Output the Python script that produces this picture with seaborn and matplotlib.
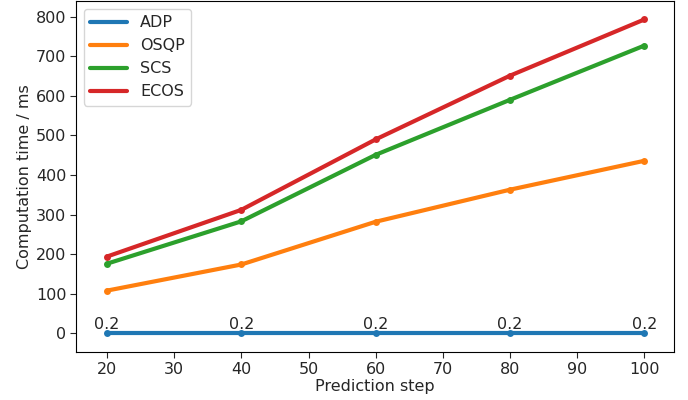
import pandas as pd
import matplotlib
matplotlib.use('Agg')
import matplotlib.pyplot as plt
import seaborn as sns

# Data
steps = [20, 40, 60, 80, 100]
adp = [0.2, 0.2, 0.2, 0.2, 0.2]
osqp = [108, 174, 282, 363, 436]
scs = [176, 283, 451, 590, 727]
ecos = [194, 312, 490, 651, 793]
solvers = ['ADP', 'OSQP', 'SCS', 'ECOS']

df = pd.DataFrame({
    'step': steps * 4,
    'time': adp + osqp + scs + ecos,
    'solver': [s for s in solvers for _ in steps],
})

sns.set_style('ticks')
plt.rcParams['font.family'] = ['DejaVu Sans']
fs = 11.5

fig, ax = plt.subplots(figsize=(6.88, 4.0), dpi=100)
palette = ['#1f77b4', '#ff7f0e', '#2ca02c', '#d62728']
sns.lineplot(data=df, x='step', y='time', hue='solver', palette=palette,
             linewidth=3, marker='o', markersize=5, markeredgewidth=0, ax=ax)

for x, y in zip(steps, adp):
    ax.text(x, y + 4, f'{y}', ha='center', va='bottom', fontsize=fs)

ax.set_xlabel('Prediction step', fontsize=fs, labelpad=2)
ax.set_ylabel('Computation time / ms', fontsize=fs, labelpad=3)
ax.set_xticks([20, 30, 40, 50, 60, 70, 80, 90, 100])
ax.set_yticks([0, 100, 200, 300, 400, 500, 600, 700, 800])
ax.tick_params(labelsize=fs, direction='out', length=4, pad=3)
ax.set_ylim(-47, 840)
ax.set_xlim(15.4, 104.4)
for sp in ax.spines.values():
    sp.set_visible(True)
    sp.set_color('black')

leg = ax.legend(loc='upper left', fontsize=fs, handlelength=2.3,
                labelspacing=0.5, borderaxespad=0.5)
for line in leg.get_lines():
    line.set_linewidth(3)
    line.set_marker('')

fig.subplots_adjust(left=0.1105, right=0.9797, top=0.998, bottom=0.12)
fig.savefig('out.png', dpi=100)
